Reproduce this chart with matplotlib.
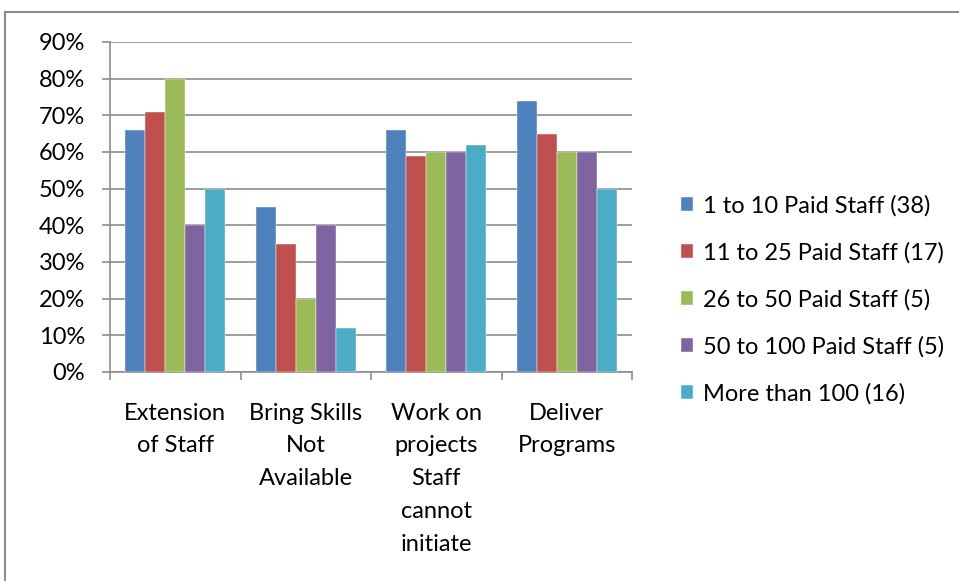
import matplotlib.pyplot as plt
import numpy as np
from matplotlib.patches import Rectangle
from matplotlib.ticker import FixedLocator, PercentFormatter

plt.rcParams['font.family'] = ['Lato', 'DejaVu Sans']

categories = [
    "Extension\nof Staff",
    "Bring Skills\nNot\nAvailable",
    "Work on\nprojects\nStaff\ncannot\ninitiate",
    "Deliver\nPrograms",
]
series_labels = [
    "1 to 10 Paid Staff (38)",
    "11 to 25 Paid Staff (17)",
    "26 to 50 Paid Staff (5)",
    "50 to 100 Paid Staff (5)",
    "More than 100 (16)",
]
staff_1_10 = [66, 45, 66, 74]
staff_11_25 = [71, 35, 59, 65]
staff_26_50 = [80, 20, 60, 60]
staff_50_100 = [40, 40, 60, 60]
staff_100_plus = [50, 12, 62, 50]
colors = ["#4F81BD", "#C0504D", "#9BBB59", "#8064A2", "#4BACC6"]

series = [staff_1_10, staff_11_25, staff_26_50, staff_50_100, staff_100_plus]

fig = plt.figure(figsize=(9.59, 5.81), dpi=100)
# chart frame
fig.patches.append(Rectangle((5 / 959, -0.1), 1.1, 0.1 + 1 - 12 / 581,
                             transform=fig.transFigure, fill=False,
                             edgecolor="#8c8c8c", linewidth=1.5))
ax = fig.add_axes([110 / 959, 1 - 372 / 581, 522 / 959, 330 / 581])

x = np.arange(len(categories))
width = 0.153
for i, (vals, lab, c) in enumerate(zip(series, series_labels, colors)):
    ax.bar(x + (i - 2) * width, vals, width, color=c, label=lab,
           edgecolor="white", linewidth=0.3, zorder=3)

ax.set_xlim(-0.5, len(categories) - 0.5)
ax.set_ylim(0, 90)
ax.set_yticks(np.arange(0, 91, 10))
ax.yaxis.set_major_formatter(PercentFormatter(decimals=0))
ax.grid(axis="y", color="#8c8c8c", linewidth=1.2, zorder=0)

ax.set_xticks(x)
ax.set_xticklabels(categories, linespacing=1.7)
ax.xaxis.set_minor_locator(FixedLocator(np.arange(-0.5, len(categories), 1)))
ax.tick_params(axis="x", which="major", length=0, pad=22, labelsize=17)
ax.tick_params(axis="x", which="minor", length=6, width=1.2, color="#8c8c8c")
ax.tick_params(axis="y", length=6, width=1.2, color="#8c8c8c", pad=12,
               labelsize=17)

for s in ["top", "right"]:
    ax.spines[s].set_visible(False)
for s in ["left", "bottom"]:
    ax.spines[s].set_color("#8c8c8c")
    ax.spines[s].set_linewidth(1.2)

fig.legend(loc="center left", bbox_to_anchor=(0.688, 0.484), frameon=False,
           fontsize=17, handlelength=0.5, handleheight=0.5, handletextpad=0.45,
           labelspacing=1.08)

fig.savefig("out.png", dpi=100)
